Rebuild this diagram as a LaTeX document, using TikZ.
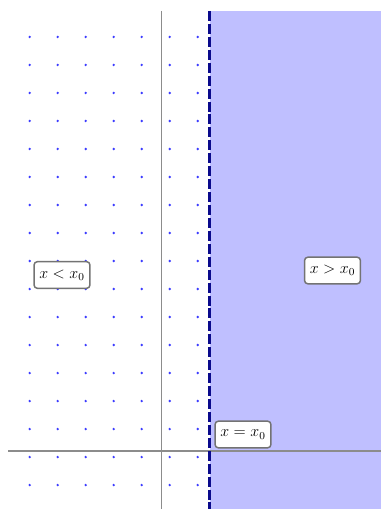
\documentclass[tikz,border=0pt]{standalone}
\usepackage{tikz}
\usetikzlibrary{positioning,calc}
\definecolor{regionblue}{RGB}{191,191,255}
\definecolor{dotblue}{RGB}{60,60,255}
\definecolor{edgeblue}{RGB}{10,10,140}
\tikzset{axisline/.style={draw=black!45, line width=0.8pt}}
\tikzset{borderline/.style={draw=edgeblue, line width=1.8pt, dash pattern=on 7.5pt off 2.2pt}}
\tikzset{gdot/.style={fill=dotblue}}
\tikzset{lbox/.style={draw=black!55, line width=1.1pt, rounded corners=2.5, fill=white, inner sep=4pt, minimum height=20pt, font=\large}}

\begin{document}
\begin{tikzpicture}[x=0.75pt, y=-0.75pt]
				\useasboundingbox (0,0) rectangle (381,509);
				\fill[regionblue] (210,11) rectangle (381,509);
				\foreach \i in {0,...,6}
				  \foreach \j in {0,...,16}
				    \fill[gdot] (29.7+28*\i, 37+28*\j) circle (1.3);
				\coordinate (xl) at (8,451);
				\coordinate (xr) at (381,451);
				\coordinate (yt) at (161.3,11);
				\coordinate (yb) at (161.3,509);
				\coordinate (bt) at (209.5,11);
				\coordinate (bb) at (209.5,509);
				\draw[axisline] (xl) -- (xr);
				\draw[axisline] (yt) -- (yb);
				\draw[borderline] (bt) -- (bb);
				\node[lbox] (less) at (62,275) {$x<x_0$};
				\node[lbox] (more) at (332.5,270.5) {$x>x_0$};
				\node[lbox] (eq) at (243,434.5) {$x=x_0$};
			\end{tikzpicture}
\end{document}
